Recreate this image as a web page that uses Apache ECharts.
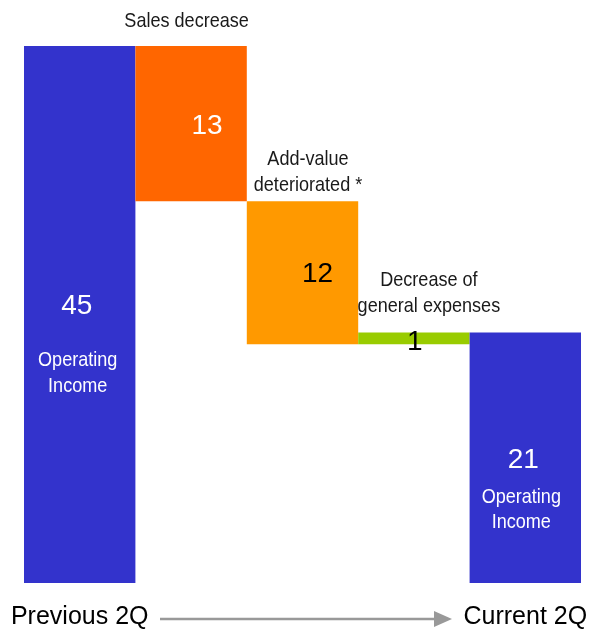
<!DOCTYPE html>
<html>
<head>
<meta charset="utf-8">
<script src="https://cdn.jsdelivr.net/npm/echarts@6/dist/echarts.min.js"></script>
<style>
  html, body { margin: 0; padding: 0; background: #fff; }
  #chart { width: 591px; height: 630px; }
</style>
</head>
<body>
<div id="chart"></div>
<script>
// Operating income bridge: previous 2Q -> current 2Q
const categories = ['Previous 2Q', 'Sales decrease', 'Add-value\ndeteriorated *', 'Decrease of\ngeneral expenses', 'Current 2Q'];
const amounts = [45, 13, 12, 1, 21];        // height of each bar
const floatBase = [0, 32, 20, 20, 0];       // invisible base under each floating bar
const barColors = ['#3333CC', '#FF6600', '#FF9900', '#99CC00', '#3333CC'];
const totalCaption = 'Operating\nIncome';

const REGULAR = "'Liberation Sans', Arial, sans-serif";
const NARROW_SCALE = 0.86;   // horizontal squeeze for the narrow caption lettering

// per-bar offsets for the value labels
const valueOffset = [[-3, 2], [16, 3], [15, 2], [1, 4], [-2, 3]];
const valueDark = [false, false, true, true, false];

const chart = echarts.init(document.getElementById('chart'), null, { renderer: 'canvas' });

const amountData = amounts.map((v, i) => ({
  value: v,
  itemStyle: { color: barColors[i] },
  label: {
    show: true,
    position: i === 0 ? ['50%', 258] : (i === 4 ? ['50%', 125] : 'inside'),
    align: 'center',
    verticalAlign: 'middle',
    offset: valueOffset[i],
    formatter: String(v),
    color: valueDark[i] ? '#000000' : '#ffffff',
    fontFamily: REGULAR,
    fontSize: 28
  }
}));

chart.setOption({
  animation: false,
  backgroundColor: '#ffffff',
  grid: { left: 24, right: 10, top: 46, bottom: 47, containLabel: false },
  xAxis: {
    type: 'category',
    data: categories,
    axisLine: { show: false },
    axisTick: { show: false },
    splitLine: { show: false },
    axisLabel: {
      interval: 0,
      margin: 22,
      fontFamily: REGULAR,
      fontSize: 25,
      color: '#000000',
      formatter: (v, i) => (i === 0 || i === categories.length - 1) ? v : ''
    }
  },
  yAxis: {
    type: 'value',
    min: 0,
    max: 45,
    show: false,
    splitLine: { show: false }
  },
  series: [
    {
      name: 'base',
      type: 'bar',
      stack: 'bridge',
      barWidth: '100%',
      silent: true,
      itemStyle: { color: 'rgba(0,0,0,0)' },
      data: floatBase
    },
    {
      name: 'amount',
      type: 'bar',
      stack: 'bridge',
      barWidth: '100%',
      data: amountData
    }
  ]
});

// Narrow captions: change names above the floating bars and the
// "Operating Income" captions inside the two totals.
function captionText(x, y, text, color) {
  return {
    type: 'text',
    x: x,
    y: y,
    z: 100,
    scaleX: NARROW_SCALE,
    silent: true,
    style: {
      text: text,
      fontFamily: REGULAR,
      fontSize: 21,
      lineHeight: 25.5,
      fill: color,
      align: 'center',
      verticalAlign: 'middle',
      textAlign: 'center',
      textVerticalAlign: 'middle'
    }
  };
}

const graphics = [];
// change names, anchored to the top of each floating bar
const nameShift = { 1: [-4.5, -25], 2: [5.5, -29], 3: [15, -39] };
for (let i = 1; i <= 3; i++) {
  const top = chart.convertToPixel({ gridIndex: 0 }, [i, floatBase[i] + amounts[i]]);
  graphics.push(captionText(top[0] + nameShift[i][0], top[1] + nameShift[i][1], categories[i], '#1a1a1a'));
}
// captions inside the total bars, anchored to the bar's middle
const captionShift = { 0: [-2, 58.5], 4: [-4, 52] };
[0, 4].forEach(i => {
  const mid = chart.convertToPixel({ gridIndex: 0 }, [i, floatBase[i] + amounts[i] / 2]);
  graphics.push(captionText(mid[0] + captionShift[i][0], mid[1] + captionShift[i][1], totalCaption, '#ffffff'));
});
// timeline arrow between the two period labels
graphics.push({
  type: 'line',
  shape: { x1: 160, y1: 619, x2: 436, y2: 619 },
  style: { stroke: '#999999', lineWidth: 2.5 },
  z: 100,
  silent: true
});
graphics.push({
  type: 'polygon',
  shape: { points: [[434, 611], [452, 619], [434, 627]] },
  style: { fill: '#999999' },
  z: 100,
  silent: true
});

chart.setOption({ graphic: graphics });
</script>
</body>
</html>
